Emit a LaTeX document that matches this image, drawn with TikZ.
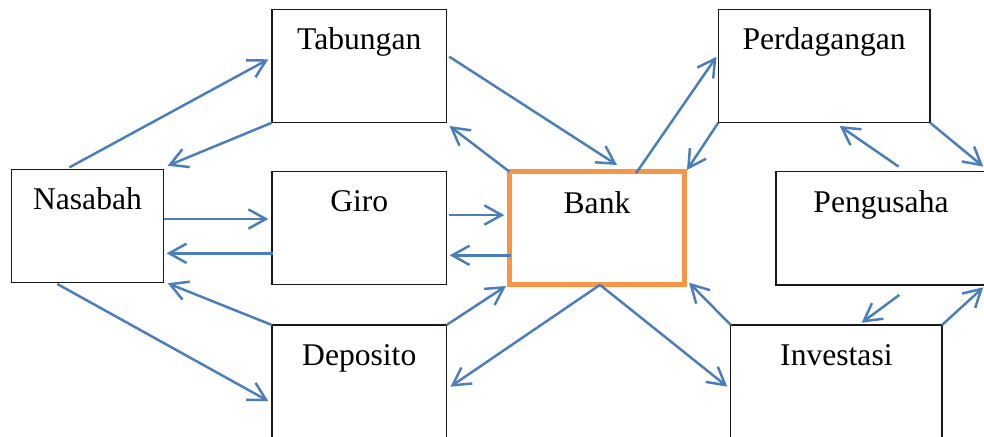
\documentclass[tikz,border=0pt]{standalone}
\usepackage{fontspec}
\setmainfont{Liberation Serif}
\usetikzlibrary{arrows.meta}
\definecolor{arrblue}{RGB}{74,126,187}
\definecolor{bankorange}{RGB}{247,150,70}
\tikzset{
  box/.style={draw=black!90, line width=0.9pt, rectangle, inner sep=0pt, outer sep=0pt,
    minimum height=85pt},
  boxtxt/.style={anchor=base, inner sep=0pt, font=\fontsize{23.7}{28}\selectfont},
  flow/.style={draw=arrblue, line width=1.85pt, -{Straight Barb[length=13pt,width=14.5pt,line width=1.85pt]}}
}
\begin{document}
\begin{tikzpicture}[x=0.75pt,y=-0.75pt]
\useasboundingbox (0,0) rectangle (984,436);
\clip (0,0) rectangle (984,436);
\fill[white] (0,0) rectangle (984,436);
% boxes
\node[box, minimum width=114pt, label={[boxtxt, yshift=-30.4pt]north:Nasabah}] (nas) at (87.5,226) {};
\node[box, minimum width=130.9pt, label={[boxtxt, yshift=-30.4pt]north:Tabungan}] (tab) at (359.25,66) {};
\node[box, minimum width=130.9pt, label={[boxtxt, yshift=-30.4pt]north:Giro}] (giro) at (359.25,228) {};
\node[box, minimum width=130.9pt, label={[boxtxt, yshift=-30.4pt]north:Deposito}] (dep) at (359.25,381.7) {};
\node[box, draw=bankorange, line width=3.6pt, minimum width=131.4pt, minimum height=84.5pt,
  label={[boxtxt, yshift=-31pt]north:Bank}] (bank) at (597,228) {};
\node[box, minimum width=158.8pt, label={[boxtxt, yshift=-30.4pt]north:Perdagangan}] (perd) at (824.15,66) {};
\node[box, minimum width=157.5pt, label={[boxtxt, yshift=-30.4pt]north:Pengusaha}] (peng) at (881,228.3) {};
\node[box, minimum width=158.4pt, label={[boxtxt, yshift=-30.4pt]north:Investasi}] (inv) at (836.4,381.7) {};
% connectors
\draw[flow] ([shift={(-18,-2)}]nas.north) -- ([shift={(-3.7,-6.7)}]tab.west);
\draw[flow] (tab.south west) -- ([shift={(4.2,-3.6)}]nas.north east);
\draw[flow] ([shift={(0,-7)}]nas.east) -- ([shift={(-3.7,-9)}]giro.west);
\draw[flow] ([shift={(1.3,25.3)}]giro.west) -- ([shift={(3.2,27.3)}]nas.east);
\draw[flow] (dep.north west) -- ([shift={(4.2,0.6)}]nas.south east);
\draw[flow] ([shift={(-30.2,1.3)}]nas.south) -- ([shift={(-3.7,19.3)}]dep.west);
\draw[flow] ([shift={(2.8,-9.3)}]tab.east) -- ([shift={(20,-6.7)}]bank.north);
\draw[flow] (bank.north west) -- ([shift={(3,3.3)}]tab.south east);
\draw[flow] ([shift={(2.8,-13)}]giro.east) -- ([shift={(-5.2,-13)}]bank.west);
\draw[flow] ([shift={(1.6,27.3)}]bank.west) -- ([shift={(3.2,27.3)}]giro.east);
\draw[flow] (dep.north east) -- ([shift={(-3.5,1.7)}]bank.south west);
\draw[flow] ([shift={(3,0.5)}]bank.south) -- ([shift={(3.9,5)}]dep.east);
\draw[flow] ([shift={(3,0.5)}]bank.south) -- ([shift={(-3.5,5)}]inv.west);
\draw[flow] ([shift={(39,1.6)}]bank.north) -- ([shift={(-1.8,-9.3)}]perd.west);
\draw[flow] (perd.south west) -- ([shift={(2.4,-1.7)}]bank.north east);
\draw[flow] (inv.north west) -- ([shift={(4.5,-1.6)}]bank.south east);
\draw[flow] ([shift={(17.7,-5)}]peng.north) -- ([shift={(15.5,3.3)}]perd.south);
\draw[flow] (perd.south east) -- ([shift={(102.3,-5)}]peng.north);
\draw[flow] ([shift={(18.3,10)}]peng.south) -- ([shift={(25.3,-2.3)}]inv.north);
\draw[flow] (inv.north east) -- ([shift={(102.3,2.3)}]peng.south);
\end{tikzpicture}
\end{document}
